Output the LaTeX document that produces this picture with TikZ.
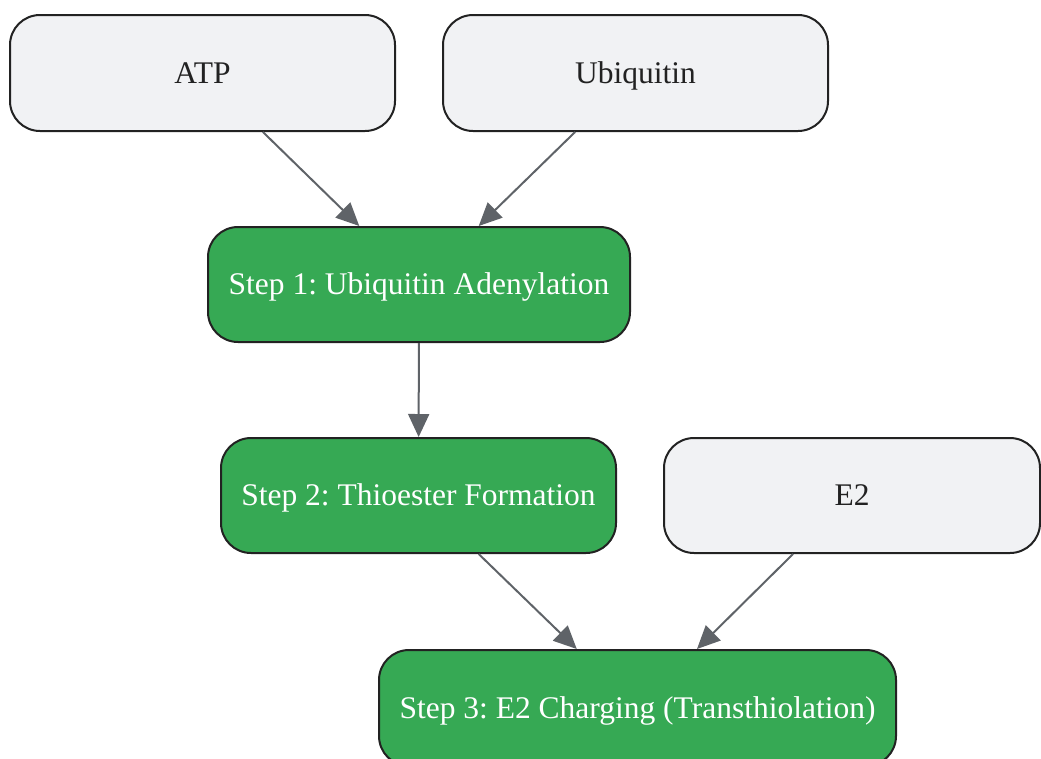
\documentclass[tikz,border=0pt]{standalone}
\usepackage{fontspec}
\setmainfont{Liberation Serif}
\usetikzlibrary{arrows.meta}
\definecolor{boxgray}{HTML}{F1F2F4}
\definecolor{boxgreen}{HTML}{36A954}
\definecolor{edge}{HTML}{222222}
\definecolor{arrowc}{HTML}{5F6368}
\frenchspacing
\tikzset{
  basebox/.style={draw=edge, line width=2pt, rounded corners=30pt, inner sep=0pt,
    text height=20.9pt, text depth=0pt,
    font=\fontsize{31.5}{38}\selectfont},
  graybox/.style={basebox, fill=boxgray, text=edge},
  greenbox/.style={basebox, fill=boxgreen, text=white},
  conn/.style={draw=arrowc, line width=2pt, -{Triangle[length=23pt,width=21pt]}}
}
\begin{document}
\begin{tikzpicture}[x=1pt,y=-1pt]
\useasboundingbox (0,0) rectangle (1041,758);
\node[graybox, minimum width=385pt, minimum height=116pt] (atp) at (202.5,73) {ATP};
\node[graybox, minimum width=385pt, minimum height=116pt] (ub) at (635.5,73) {Ubiquitin};
\node[greenbox, minimum width=422pt, minimum height=115pt] (s1) at (419,284.5) {Step 1: Ubiquitin Adenylation};
\node[greenbox, minimum width=395pt, minimum height=115pt] (s2) at (418.5,495.5) {Step 2: Thioester Formation};
\node[graybox, minimum width=376pt, minimum height=115pt] (e2) at (852,495.5) {E2};
\node[greenbox, minimum width=517pt, minimum height=116pt] (s3) at (637.5,708) {Step 3: E2 Charging (Transthiolation)};
\draw[conn] (atp) -- (s1);
\draw[conn] (ub) -- (s1);
\draw[conn] (s1) -- (s2);
\draw[conn] (s2) -- (s3);
\draw[conn] (e2) -- (s3);
\end{tikzpicture}
\end{document}
